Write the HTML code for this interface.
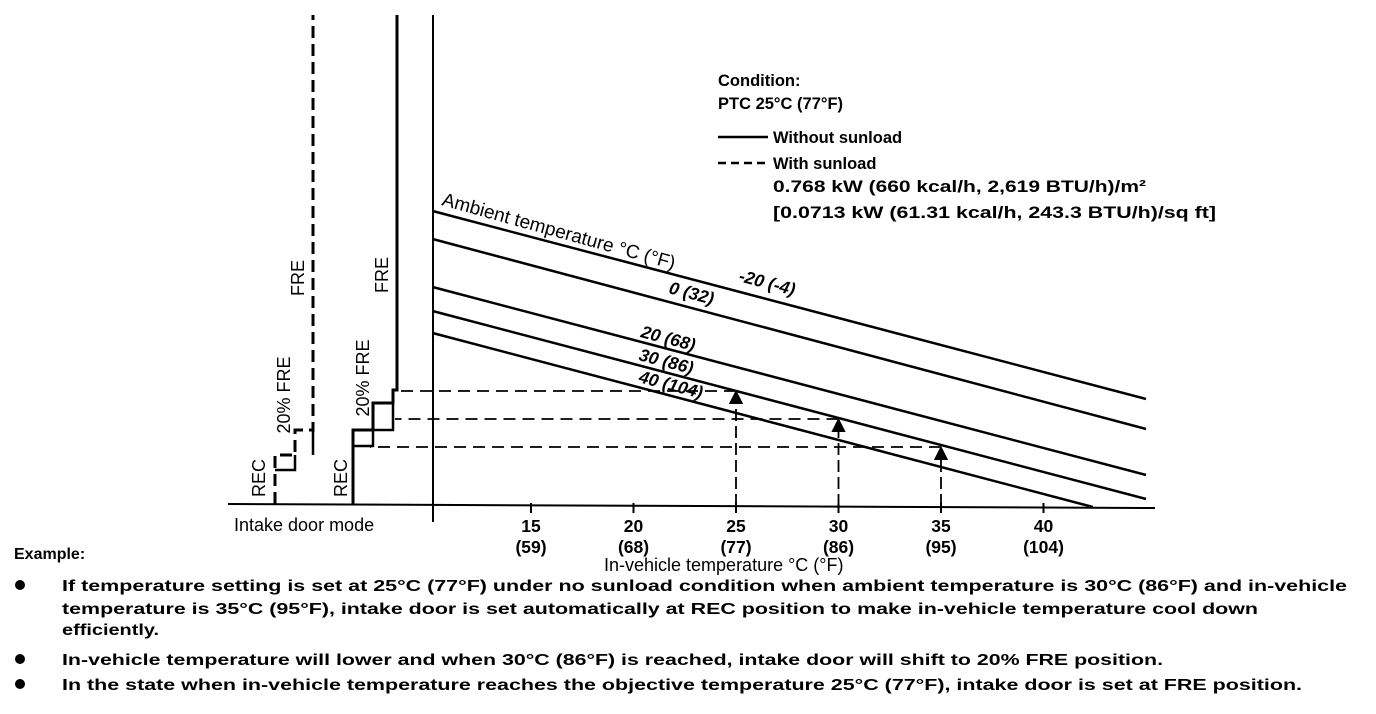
<!DOCTYPE html>
<html><head><meta charset="utf-8"><style>
html,body{margin:0;padding:0;background:#fff;}
svg{display:block;font-family:"Liberation Sans",sans-serif;}
.b{font-weight:bold;}
</style></head><body>
<svg id="chart" width="1376" height="714" viewBox="0 0 1376 714">
<defs><marker id="ah" markerWidth="8" markerHeight="8" refX="4" refY="4" orient="auto"><path d="M0,0 L8,4 L0,8 z" fill="#000"/></marker></defs>
<g id="axes">
 <line x1="228" y1="504" x2="1155" y2="508" stroke="#000" stroke-width="2"/>
 <line x1="433" y1="15" x2="433" y2="522" stroke="#000" stroke-width="2"/>
</g>
<g id="ticks"></g>
<g id="lines"></g>
<g id="arrows"></g>
<g fill="none" stroke="#000" stroke-width="3">
 <path d="M275,504 L275,455 L295,455 L295,430 L313,430 L313,15" stroke-dasharray="12,6"/>
 <path d="M353,504 L353,430 L373,430 L373,403 L393,403 L393,390 L397,390 L397,15"/>
 <path d="M295,455 L295,470 L275,470 M313,430 L313,455 M373,430 L373,446 L353,446 M393,403 L393,430 L373,430" stroke-width="2.5"/>
</g>
<g font-size="18" fill="#000">
 <text transform="translate(265,478) rotate(-90)" text-anchor="middle">REC</text>
 <text transform="translate(290,395) rotate(-90)" text-anchor="middle">20% FRE</text>
 <text transform="translate(304,278) rotate(-90)" text-anchor="middle">FRE</text>
 <text transform="translate(347,478) rotate(-90)" text-anchor="middle">REC</text>
 <text transform="translate(369,378) rotate(-90)" text-anchor="middle">20% FRE</text>
 <text transform="translate(388,275) rotate(-90)" text-anchor="middle">FRE</text>
 <text x="234" y="531">Intake door mode</text>
 <text x="604" y="571">In-vehicle temperature °C (°F)</text>
 <text x="441" y="205" font-size="19" transform="rotate(15.5 441 205)">Ambient temperature °C (°F)</text>
</g>
<g class="b" font-size="16.5" fill="#000">
 <text x="718" y="86">Condition:</text>
 <text x="718" y="109">PTC 25°C (77°F)</text>
 <line x1="718" y1="137" x2="768" y2="137" stroke="#000" stroke-width="2.5"/>
 <text x="773" y="143">Without sunload</text>
 <line x1="718" y1="163" x2="768" y2="163" stroke="#000" stroke-width="2.5" stroke-dasharray="8,5"/>
 <text x="773" y="169">With sunload</text>
 <text x="773" y="192" textLength="373" lengthAdjust="spacingAndGlyphs">0.768 kW (660 kcal/h, 2,619 BTU/h)/m²</text>
 <text x="773" y="218" textLength="443" lengthAdjust="spacingAndGlyphs">[0.0713 kW (61.31 kcal/h, 243.3 BTU/h)/sq ft]</text>
</g>
<g class="b" font-size="15.5" fill="#000">
 <text x="14" y="559" font-size="16">Example:</text>
 <circle cx="20" cy="585" r="5"/>
 <text x="62" y="591" textLength="1285" lengthAdjust="spacingAndGlyphs">If temperature setting is set at 25°C (77°F) under no sunload condition when ambient temperature is 30°C (86°F) and in-vehicle</text>
 <text x="62" y="614" textLength="1196" lengthAdjust="spacingAndGlyphs">temperature is 35°C (95°F), intake door is set automatically at REC position to make in-vehicle temperature cool down</text>
 <text x="62" y="635" textLength="97" lengthAdjust="spacingAndGlyphs">efficiently.</text>
 <circle cx="20" cy="659" r="5"/>
 <text x="62" y="665" textLength="1101" lengthAdjust="spacingAndGlyphs">In-vehicle temperature will lower and when 30°C (86°F) is reached, intake door will shift to 20% FRE position.</text>
 <circle cx="20" cy="684" r="5"/>
 <text x="62" y="690" textLength="1240" lengthAdjust="spacingAndGlyphs">In the state when in-vehicle temperature reaches the objective temperature 25°C (77°F), intake door is set at FRE position.</text>
</g>
<script>
const tickC=[15,20,25,30,35,40];
const tickF=["(59)","(68)","(77)","(86)","(95)","(104)"];
const ambientLabels=["-20 (-4)","0 (32)","20 (68)","30 (86)","40 (104)"];
const lineStart=[147,133,109,97,86];   // level at 10.2°C
const lineEnd=[53,38,15,3,-8];         // level at 45°C
const exampleTemps=[25,30,35];
const exampleLevels=[57,43,29];
const xs=t=>736+(t-25)*20.5;
const ys=v=>505-v*2;
const NS="http://www.w3.org/2000/svg";
function mk(tag,attrs,parent){const e=document.createElementNS(NS,tag);for(const k in attrs)e.setAttribute(k,attrs[k]);parent.appendChild(e);return e;}
const gT=document.getElementById('ticks'),gL=document.getElementById('lines'),gA=document.getElementById('arrows');
tickC.forEach((t,i)=>{
 const x=xs(t);
 const tk=mk('line',{x1:x,y1:503,x2:x,y2:513,stroke:'#000','stroke-width':2},gT);
 
 
 const a=mk('text',{x:x,y:532,'text-anchor':'middle','font-size':17.5,'font-weight':'bold'},gT);a.textContent=t;
 
 
 const b=mk('text',{x:x,y:553,'text-anchor':'middle','font-size':17.5,'font-weight':'bold'},gT);b.textContent=tickF[i];
 
 
});
const t0=10.2,t1=45;
const labelPos=[[738,281],[668,293],[640,337],[638,360],[638,382]];
lineStart.forEach((v,i)=>{
 let xe=xs(t1),ye=ys(lineEnd[i]);
 const x0=xs(t0),y0=ys(v);
 const base=507;
 if(ye>base){const f=(base-y0)/(ye-y0);xe=x0+(xe-x0)*f;ye=base;}
 const l=mk('line',{x1:x0,y1:y0,x2:xe,y2:ye,stroke:'#000','stroke-width':2.5},gL);
 
 
 const ang=Math.atan2(ye-y0,xe-x0)*180/Math.PI;
 const p=labelPos[i];
 const tx=mk('text',{x:p[0],y:p[1],'font-size':17.5,'font-weight':'bold','font-style':'italic',transform:`rotate(${ang} ${p[0]} ${p[1]})`},gL);
 tx.textContent=ambientLabels[i];
 
 
});
const startX=[395,395,370];
exampleTemps.forEach((t,i)=>{
 const x=xs(t),y=ys(exampleLevels[i]);
 const h=mk('line',{x1:x,y1:y,x2:startX[i],y2:y,stroke:'#000','stroke-width':1.8,'stroke-dasharray':'12,7'},gA);
 
 
 const v=mk('line',{x1:x,y1:506,x2:x,y2:y+6,stroke:'#000','stroke-width':1.8,'stroke-dasharray':'12,5','marker-end':'url(#ah)'},gA);
 
 
});
</script>
</svg>
</body></html>
